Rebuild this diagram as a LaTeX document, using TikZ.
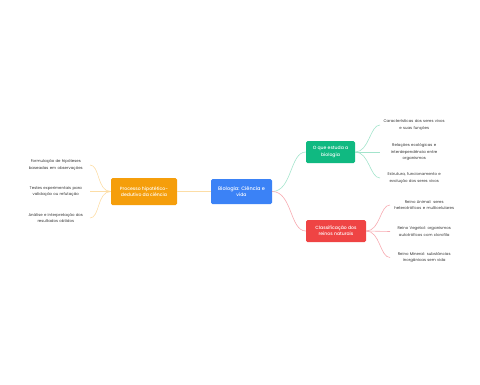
\documentclass[tikz,border=0pt]{standalone}
\usepackage{fontspec}
\setmainfont{Poppins}[BoldFont={Poppins Medium}]
\definecolor{cblue}{HTML}{3B82F6}
\definecolor{corange}{HTML}{F59E0B}
\definecolor{cgreen}{HTML}{10B981}
\definecolor{cred}{HTML}{EF4444}
\definecolor{lorange}{HTML}{FCDDA6}
\definecolor{lgreen}{HTML}{A3E4CC}
\definecolor{lred}{HTML}{F7A9B0}
\definecolor{ctext}{HTML}{333333}
\tikzset{
  mainbox/.style={rectangle, rounded corners=1.5pt, text=white, align=center,
    font=\bfseries\fontsize{4.6}{6.2}\selectfont, inner sep=0pt},
  leaf/.style={text=ctext, align=center, text width=66pt, inner sep=1pt,
    font=\fontsize{3.9}{6.5}\selectfont},
  link/.style={line width=0.6pt},
}
\begin{document}
\begin{tikzpicture}[x=1pt,y=-1pt]
\useasboundingbox (0,0) rectangle (480,384);
% main nodes
\node[mainbox, fill=cblue, minimum width=61pt, minimum height=25pt] (root) at (241.5,191.5)
  {\fontsize{5}{7}\selectfont Biologia: Ciência e\\vida};
\node[mainbox, fill=corange, minimum width=66pt, minimum height=27pt] (proc) at (144,191.5)
  {Processo hipotético-\\dedutivo da ciência};
\node[mainbox, fill=cgreen, minimum width=49pt, minimum height=22pt] (what) at (330.5,152)
  {O que estuda a\\biologia};
\node[mainbox, fill=cred, minimum width=60pt, minimum height=22pt] (class) at (336,231)
  {Classificação dos\\reinos naturais};
% left leaves
\node[leaf, anchor=east] (l1) at (90,165) {Formulação de hipóteses\\baseadas em observações};
\node[leaf, anchor=east] (l2) at (90,191.5) {Testes experimentais para\\validação ou refutação};
\node[leaf, anchor=east] (l3) at (90,218) {Análise e interpretação dos\\resultados obtidos};
% green leaves
\node[leaf, anchor=west] (g1) at (380,125) {Características dos seres vivos\\e suas funções};
\node[leaf, anchor=west] (g2) at (380,152) {Relações ecológicas e\\interdependência entre\\organismos};
\node[leaf, anchor=west] (g3) at (380,178) {Estrutura, funcionamento e\\evolução dos seres vivos};
% red leaves
\node[leaf, anchor=west] (r1) at (390,205) {Reino Animal: seres\\heterotróficos e multicelulares};
\node[leaf, anchor=west] (r2) at (390,231.5) {Reino Vegetal: organismos\\autotróficos com clorofila};
\node[leaf, anchor=west] (r3) at (390,257.5) {Reino Mineral: substâncias\\inorgânicas sem vida};
% connectors
\draw[link, lorange] (root.west) -- (proc.east);
\draw[link, lgreen] (root.east) .. controls ++(20,0) and ++(-16,0) .. (what.west);
\draw[link, lred] (root.east) .. controls ++(20,0) and ++(-16,0) .. (class.west);
\draw[link, lorange] (proc.west) .. controls ++(-14,0) and ++(10,0) .. (l1.east);
\draw[link, lorange] (proc.west) -- (l2.east);
\draw[link, lorange] (proc.west) .. controls ++(-14,0) and ++(10,0) .. (l3.east);
\draw[link, lgreen] (what.east) .. controls ++(14,0) and ++(-10,0) .. (g1.west);
\draw[link, lgreen] (what.east) -- (g2.west);
\draw[link, lgreen] (what.east) .. controls ++(14,0) and ++(-10,0) .. (g3.west);
\draw[link, lred] (class.east) .. controls ++(14,0) and ++(-10,0) .. (r1.west);
\draw[link, lred] (class.east) -- (r2.west);
\draw[link, lred] (class.east) .. controls ++(14,0) and ++(-10,0) .. (r3.west);
\end{tikzpicture}
\end{document}
